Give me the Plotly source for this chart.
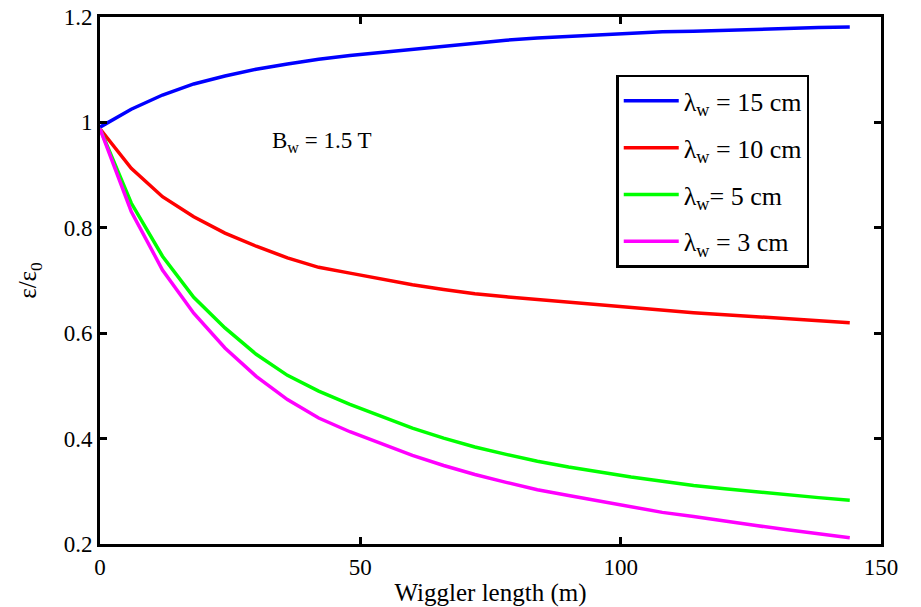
import plotly.graph_objects as go

length_m = [0, 6, 12, 18, 24, 30, 36, 42, 48, 54, 60, 66, 72, 78, 84, 90, 96, 102, 108, 114, 120, 126, 132, 138, 144]

eps_15cm = [0.991, 1.025, 1.052, 1.073, 1.088, 1.101, 1.111, 1.120, 1.127, 1.133, 1.139, 1.145, 1.151,
            1.156, 1.160, 1.163, 1.166, 1.169, 1.172, 1.173, 1.175, 1.177, 1.179, 1.180, 1.181]
eps_10cm = [0.988, 0.913, 0.859, 0.821, 0.790, 0.765, 0.743, 0.725, 0.714, 0.703, 0.692, 0.683, 0.675,
            0.669, 0.664, 0.658, 0.653, 0.648, 0.643, 0.639, 0.635, 0.631, 0.627, 0.624, 0.620]
eps_5cm = [0.988, 0.847, 0.746, 0.668, 0.610, 0.560, 0.520, 0.490, 0.465, 0.442, 0.420, 0.401, 0.384,
           0.370, 0.357, 0.346, 0.336, 0.327, 0.319, 0.311, 0.305, 0.299, 0.294, 0.288, 0.283]
eps_3cm = [0.988, 0.831, 0.720, 0.638, 0.572, 0.518, 0.474, 0.439, 0.413, 0.390, 0.368, 0.349, 0.332,
           0.317, 0.303, 0.292, 0.281, 0.271, 0.260, 0.252, 0.243, 0.235, 0.227, 0.220, 0.212]

series_names = ["λ<sub>w</sub> = 15 cm", "λ<sub>w</sub> = 10 cm", "λ<sub>w</sub>= 5 cm", "λ<sub>w</sub> = 3 cm"]
series_values = [eps_15cm, eps_10cm, eps_5cm, eps_3cm]
series_colors = ["#0000FF", "#FF0000", "#00FF00", "#FF00FF"]

x_ticks = [0, 50, 100, 150]
y_ticks = [0.2, 0.4, 0.6, 0.8, 1.0, 1.2]
y_tick_labels = ["0.2", "0.4", "0.6", "0.8", "1", "1.2"]

FONT = "Liberation Serif, Times New Roman, serif"

fig = go.Figure()
for i, (name, vals, col) in enumerate(zip(series_names, series_values, series_colors)):
    fig.add_trace(go.Scatter(x=length_m, y=vals, mode="lines", name=name,
                             legendgroup=f"g{i}",
                             line=dict(color=col, width=3.5)))

fig.add_annotation(x=42.7, y=0.963, text="B<sub>w</sub> = 1.5 T", showarrow=False,
                   font=dict(family=FONT, size=23, color="black"))

axis_common = dict(showline=True, linecolor="black", linewidth=3, mirror="ticks",
                   ticks="inside", ticklen=7, tickwidth=3, tickcolor="black",
                   showgrid=False, zeroline=False, automargin=False,
                   tickfont=dict(family=FONT, size=23, color="black"))

fig.update_xaxes(range=[0, 150], tickvals=x_ticks,
                 title=dict(text="Wiggler length (m)", standoff=9,
                            font=dict(family=FONT, size=25, color="black")),
                 **axis_common)
fig.update_yaxes(range=[0.2, 1.2], tickvals=y_ticks, ticktext=y_tick_labels,
                 title=dict(text="ε/ε<sub>0</sub>", standoff=20,
                            font=dict(family=FONT, size=25, color="black")),
                 **axis_common)

fig.update_layout(
    width=921, height=607,
    margin=dict(l=100, r=40, t=17, b=63),
    paper_bgcolor="white", plot_bgcolor="white",
    font=dict(family=FONT, size=22, color="black"),
    showlegend=True,
    legend=dict(x=0.661, y=0.89, xanchor="left", yanchor="top",
                bordercolor="black", borderwidth=2.5, bgcolor="white",
                traceorder="grouped", tracegroupgap=10, itemwidth=55,
                font=dict(family=FONT, size=26, color="black")),
)

fig.write_html("out.html",
               config={"displayModeBar": False},
               post_script="document.body.style.margin='0';document.body.style.overflow='hidden';")
